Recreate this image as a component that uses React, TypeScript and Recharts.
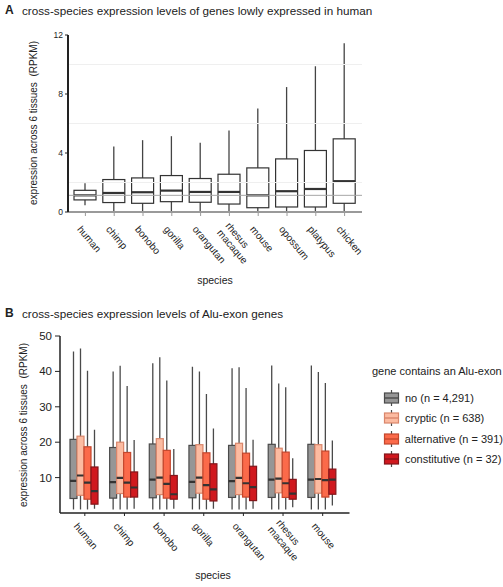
import React from 'react';
import { Bar, ComposedChart, Legend, ReferenceLine, XAxis, YAxis } from 'recharts';

// panel A: genes lowly expressed in human
const speciesA = ['human', 'chimp', 'bonobo', 'gorilla', 'orangutan', 'rhesus macaque', 'mouse', 'opossum', 'platypus', 'chicken'];
const lowA = [0.45, 0, 0, 0, 0, 0, 0, 0, 0, 0];
const q1A = [0.82, 0.64, 0.59, 0.7, 0.66, 0.54, 0.29, 0.34, 0.34, 0.59];
const medA = [1.13, 1.29, 1.34, 1.45, 1.36, 1.36, 1.13, 1.41, 1.56, 2.09];
const q3A = [1.47, 2.2, 2.31, 2.47, 2.27, 2.56, 2.99, 3.6, 4.17, 4.96];
const highA = [1.95, 4.44, 4.87, 5.14, 4.69, 5.53, 7.02, 8.47, 9.88, 11.44];
const ticksA = [0, 4, 8, 12];
const gridA = [2, 6, 10];

// panel B: Alu-exon genes
const speciesB = ['human', 'chimp', 'bonobo', 'gorilla', 'orangutan', 'rhesus macaque', 'mouse'];
const ticksB = [10, 20, 30, 40, 50];

const noLow = [1, 1, 1, 1, 1, 1, 1];
const noQ1 = [4.1, 4.2, 4.3, 4.3, 4.4, 4.4, 4.4];
const noMed = [9.1, 8.7, 9.4, 8.8, 9.0, 9.4, 9.4];
const noQ3 = [20.8, 18.5, 19.5, 19.1, 19.1, 19.4, 19.4];
const noHigh = [45.6, 40.0, 42.3, 41.3, 40.9, 41.7, 41.7];

const crypticLow = [1, 1, 1, 1, 1, 1, 1];
const crypticQ1 = [5.0, 5.5, 5.2, 5.6, 5.2, 5.7, 5.6];
const crypticMed = [10.6, 9.9, 10.0, 10.0, 9.9, 9.7, 9.6];
const crypticQ3 = [21.7, 20.0, 21.0, 19.3, 19.7, 18.3, 19.3];
const crypticHigh = [46.5, 41.6, 44.0, 40.0, 41.2, 36.6, 39.8];

const altLow = [1, 1, 1, 1, 1, 1, 1];
const altQ1 = [3.9, 4.5, 4.2, 3.9, 4.5, 4.4, 4.5];
const altMed = [8.6, 8.6, 8.2, 7.9, 8.4, 8.4, 9.3];
const altQ3 = [18.7, 17.1, 17.7, 17.0, 16.9, 17.2, 17.5];
const altHigh = [40.2, 35.9, 37.4, 33.6, 35.3, 35.5, 36.7];

const constLow = [1.2, 1.2, 1.2, 1.2, 1.2, 1.6, 2.1];
const constQ1 = [2.5, 4.5, 3.9, 3.4, 3.5, 3.9, 5.3];
const constMed = [6.2, 7.2, 5.3, 6.7, 7.3, 5.5, 9.4];
const constQ3 = [13.0, 11.6, 10.6, 13.9, 13.2, 9.5, 12.4];
const constHigh = [23.5, 20.6, 18.1, 23.9, 20.7, 15.5, 20.5];

const seriesB = [
  { key: 'no', name: 'no (n = 4,291)', fill: '#969696', stroke: '#4a4a4a', low: noLow, q1: noQ1, med: noMed, q3: noQ3, high: noHigh },
  { key: 'cryptic', name: 'cryptic (n = 638)', fill: '#fcbba1', stroke: '#d9866b', low: crypticLow, q1: crypticQ1, med: crypticMed, q3: crypticQ3, high: crypticHigh },
  { key: 'alternative', name: 'alternative (n = 391)', fill: '#fb6a4a', stroke: '#c4472d', low: altLow, q1: altQ1, med: altMed, q3: altQ3, high: altHigh },
  { key: 'constitutive', name: 'constitutive (n = 32)', fill: '#d0181e', stroke: '#84151a', low: constLow, q1: constQ1, med: constMed, q3: constQ3, high: constHigh },
];

type Stats = { low: number; q1: number; med: number; q3: number; high: number };

const rowsA = speciesA.map((name, i) => ({
  name,
  box: { low: lowA[i], q1: q1A[i], med: medA[i], q3: q3A[i], high: highA[i] },
}));

const rowsB = speciesB.map((name, i) => {
  const row: any = { name };
  seriesB.forEach((s) => {
    row[s.key] = { low: s.low[i], q1: s.q1[i], med: s.med[i], q3: s.q3[i], high: s.high[i] };
  });
  return row;
});

const FONT = '"Liberation Sans", Arial, Helvetica, sans-serif';

// draws a box plot inside the range bar [low, high] that recharts has laid out
function BoxShape(props: any) {
  const { x, y, width, height, payload, statKey, fill, stroke, median, whisker } = props;
  const s: Stats = payload[statKey];
  const top = Math.min(y, y + height);
  const h = Math.abs(height);
  const k = h / (s.high - s.low || 1);
  const py = (v: number) => top + (s.high - v) * k;
  const cx = x + width / 2;
  return (
    <g>
      <line x1={cx} x2={cx} y1={py(s.high)} y2={py(s.low)} stroke={whisker} strokeWidth={1.3} />
      <rect x={x} y={py(s.q3)} width={width} height={py(s.q1) - py(s.q3)} fill={fill} stroke={stroke} strokeWidth={1.2} />
      <line x1={x} x2={x + width} y1={py(s.med)} y2={py(s.med)} stroke={median} strokeWidth={2.2} />
    </g>
  );
}

function SpeciesTick(props: any) {
  const { x, y, payload, fontSize, dx, dy } = props;
  const lines = String(payload.value).split(' ');
  const n = lines.length;
  const lh = fontSize * 1.1;
  return (
    <g>
      {lines.map((ln, i) => {
        const off = (i - (n - 1) / 2) * lh;
        const ox = x + dx - off * 0.766;
        const oy = y + dy + off * 0.643;
        return (
          <text key={i} x={ox} y={oy} transform={`rotate(50 ${ox} ${oy})`} fontSize={fontSize} fill="#222" textAnchor="start" fontFamily={FONT}>
            {ln}
          </text>
        );
      })}
    </g>
  );
}

function LegendB() {
  return (
    <div style={{ fontFamily: FONT, color: '#222' }}>
      <div style={{ fontSize: 11, lineHeight: '13px', whiteSpace: 'nowrap' }}>gene contains an Alu-exon</div>
      <div style={{ marginTop: 10 }}>
        {seriesB.map((s) => (
          <div key={s.key} style={{ display: 'flex', alignItems: 'center', height: 20.3, whiteSpace: 'nowrap' }}>
            <svg width={33} height={18} style={{ display: 'block' }}>
              <line x1={19.5} x2={19.5} y1={1} y2={17} stroke="#4a4a4a" strokeWidth={1.2} />
              <rect x={12.5} y={4} width={14} height={10} fill={s.fill} stroke={s.stroke} strokeWidth={1.2} />
              <line x1={12.5} x2={26.5} y1={9} y2={9} stroke={s.stroke} strokeWidth={1.4} />
            </svg>
            <span style={{ fontSize: 11 }}>{s.name}</span>
          </div>
        ))}
      </div>
    </div>
  );
}

const abs = (left: number, top: number, extra: any = {}) => ({ position: 'absolute' as const, left, top, ...extra });

const titleStyle = { fontSize: 11.7, lineHeight: '13px', whiteSpace: 'nowrap' };

function YLabel({ cx, cy }: { cx: number; cy: number }) {
  return (
    <div
      style={abs(cx, cy, {
        width: 220,
        fontSize: 10,
        lineHeight: '12px',
        textAlign: 'center',
        whiteSpace: 'pre',
        transform: 'translate(-50%, -50%) rotate(-90deg)',
      })}
    >
      {'expression across 6 tissues  (RPKM)'}
    </div>
  );
}

export default function App() {
  return (
    <div style={{ position: 'absolute', left: 0, top: 0, width: 503, height: 587, background: '#fff', fontFamily: FONT, color: '#222', overflow: 'hidden' }}>
      <div style={abs(5, 4, { fontSize: 12, lineHeight: '13px', fontWeight: 700 })}>A</div>
      <div style={abs(22, 4, titleStyle)}>cross-species expression levels of genes lowly expressed in human</div>

      <div style={abs(0, 0)}>
        <ComposedChart width={503} height={300} data={rowsA} margin={{ top: 35, right: 141, bottom: 28, left: 38 }} barCategoryGap={3}>
          {gridA.map((g) => (
            <ReferenceLine key={g} y={g} stroke="#efefef" strokeWidth={1} />
          ))}
          <ReferenceLine y={medA[0]} stroke="#a6a6a6" strokeWidth={1} />
          <XAxis
            dataKey="name"
            interval={0}
            height={60}
            padding={{ left: 3, right: 3 }}
            axisLine={{ stroke: '#9a9a9a', strokeWidth: 2 }}
            tickLine={{ stroke: '#9a9a9a' }}
            tickSize={4}
            tickMargin={2}
            tick={<SpeciesTick fontSize={10} dx={-8.6} dy={11.5} />}
          />
          <XAxis xAxisId="top" dataKey="name" orientation="top" height={0} tick={false} tickLine={false} axisLine={{ stroke: '#222', strokeWidth: 1.5 }} />
          <YAxis
            domain={[0, 12]}
            ticks={ticksA}
            width={30}
            allowDataOverflow
            axisLine={{ stroke: '#222', strokeWidth: 2 }}
            tickLine={{ stroke: '#222' }}
            tickSize={3}
            tickMargin={2}
            tick={{ fontSize: 8.5, fill: '#222', fontFamily: FONT }}
          />
          <YAxis yAxisId="right" orientation="right" width={0} domain={[0, 12]} tick={false} tickLine={false} axisLine={{ stroke: '#222', strokeWidth: 1.5 }} />
          <Bar
            dataKey={(d: any) => [d.box.low, d.box.high]}
            barSize={22}
            isAnimationActive={false}
            shape={(p: any) => <BoxShape {...p} statKey="box" fill="#ffffff" stroke="#333" median="#333" whisker="#444" />}
          />
        </ComposedChart>
      </div>
      <YLabel cx={34} cy={123} />
      <div style={abs(215, 280, { fontSize: 10.5, transform: 'translate(-50%, -50%)' })}>species</div>

      <div style={abs(5, 307, { fontSize: 12, lineHeight: '13px', fontWeight: 700 })}>B</div>
      <div style={abs(22, 307, titleStyle)}>cross-species expression levels of Alu-exon genes</div>

      <div style={abs(0, 300)}>
        <ComposedChart width={503} height={287} data={rowsB} margin={{ top: 36, right: 153.5, bottom: 14, left: 30 }} barCategoryGap={5} barGap={0}>
          <XAxis
            dataKey="name"
            interval={0}
            height={60}
            padding={{ left: 5, right: 7 }}
            axisLine={{ stroke: '#222', strokeWidth: 1.5 }}
            tickLine={{ stroke: '#222' }}
            tickSize={3}
            tickMargin={2}
            tick={<SpeciesTick fontSize={10} dx={-11.5} dy={8.5} />}
          />
          <XAxis xAxisId="top" dataKey="name" orientation="top" height={0} tick={false} tickLine={false} axisLine={{ stroke: '#222', strokeWidth: 1.5 }} />
          <YAxis
            domain={[0, 50]}
            ticks={ticksB}
            width={30}
            allowDataOverflow
            axisLine={{ stroke: '#222', strokeWidth: 1.5 }}
            tickLine={{ stroke: '#222' }}
            tickSize={5}
            tickMargin={3}
            tick={{ fontSize: 11.5, fill: '#222', fontFamily: FONT }}
          />
          <YAxis yAxisId="right" orientation="right" width={0} domain={[0, 50]} tick={false} tickLine={false} axisLine={{ stroke: '#222', strokeWidth: 1.5 }} />
          {seriesB.map((s) => (
            <Bar
              key={s.key}
              name={s.name}
              dataKey={(d: any) => [d[s.key].low, d[s.key].high]}
              fill={s.fill}
              isAnimationActive={false}
              shape={(p: any) => <BoxShape {...p} statKey={s.key} fill={s.fill} stroke={s.stroke} median="#333" whisker="#4a4a4a" />}
            />
          ))}
          <Legend
            layout="horizontal"
            align="center"
            verticalAlign="middle"
            wrapperStyle={{ left: 372, top: 65, width: 131, height: 110 }}
            content={() => <LegendB />}
          />
        </ComposedChart>
      </div>
      <YLabel cx={24} cy={425} />
      <div style={abs(213, 575, { fontSize: 10.5, transform: 'translate(-50%, -50%)' })}>species</div>
    </div>
  );
}
